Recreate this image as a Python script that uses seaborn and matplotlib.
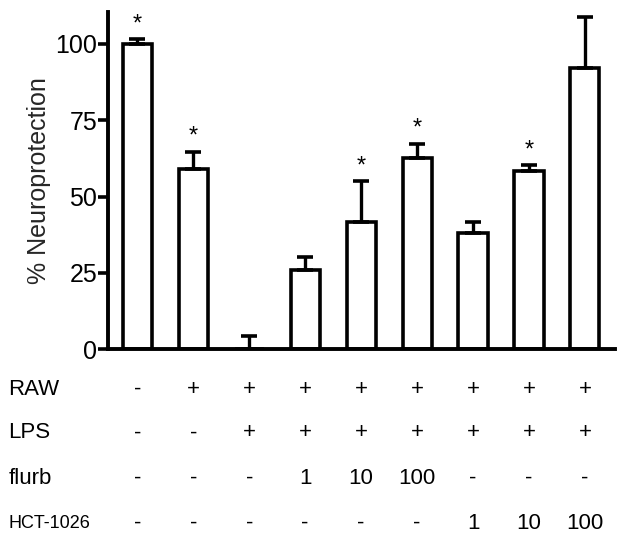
import numpy as np
import pandas as pd
import matplotlib
matplotlib.use("Agg")
import matplotlib.pyplot as plt
import seaborn as sns

# values
groups = ["g1", "g2", "g3", "g4", "g5", "g6", "g7", "g8", "g9"]
means = [100, 59, 0, 26, 41.5, 62.7, 38.2, 58.2, 92.2]
sem_up = [1.5, 5.6, 4.3, 4.2, 13.5, 4.5, 3.4, 2.0, 16.8]
signif = [True, True, False, False, True, True, False, True, True]

raw_row = ["-", "+", "+", "+", "+", "+", "+", "+", "+"]
lps_row = ["-", "-", "+", "+", "+", "+", "+", "+", "+"]
flurb_row = ["-", "-", "-", "1", "10", "100", "-", "-", "-"]
hct_row = ["-", "-", "-", "-", "-", "-", "1", "10", "100"]

sns.set_style("ticks", {"axes.edgecolor": "black", "text.color": "black",
                        "ytick.color": "black", "xtick.color": "black"})
plt.rcParams['font.family'] = ['Liberation Sans', 'DejaVu Sans']

df = pd.DataFrame({"group": groups, "value": means})

fig = plt.figure(figsize=(6.29, 5.42), dpi=100)
ax = fig.add_axes([0.172, 0.356, 0.806, 0.622])

sns.barplot(data=df, x="group", y="value", color="white", edgecolor="black",
            linewidth=2.6, width=0.52, errorbar=None, ax=ax)
x = np.arange(len(groups))
ax.errorbar(x, means, yerr=[np.zeros(len(means)), sem_up], fmt="none",
            ecolor="black", elinewidth=2.4, capsize=6, capthick=2.6, zorder=1)

for xi, m, e, s in zip(x, means, sem_up, signif):
    if s:
        ax.annotate("*", (xi, m + e), xytext=(0, 3), textcoords="offset points",
                    ha="center", va="bottom", fontsize=17)

ax.set_ylim(0, 110.5)
ax.set_xlim(-0.52, 8.54)
ax.set_yticks([0, 25, 50, 75, 100])
ax.tick_params(axis="y", labelsize=18, width=2.6, length=7, pad=1)
ax.set_xticks([])
ax.set_xlabel("")
ax.set_ylabel("% Neuroprotection", fontsize=18, labelpad=3)
sns.despine(ax=ax)
for sp in ["left", "bottom"]:
    ax.spines[sp].set_linewidth(2.8)

# treatment table under the bars
rows = [("RAW", raw_row, 16), ("LPS", lps_row, 16),
        ("flurb", flurb_row, 16), ("HCT-1026", hct_row, 13)]
row_y = [-0.119, -0.249, -0.383, -0.516]
trans = ax.get_xaxis_transform()
for (name, vals, fs), yy in zip(rows, row_y):
    fig.text(0.013, 0.356 + yy * 0.622, name, fontsize=fs, ha="left", va="center")
    for xi, v in zip(x, vals):
        ax.text(xi, yy, v, transform=trans, ha="center", va="center",
                fontsize=16, clip_on=False)

fig.savefig("out.png", dpi=100)
